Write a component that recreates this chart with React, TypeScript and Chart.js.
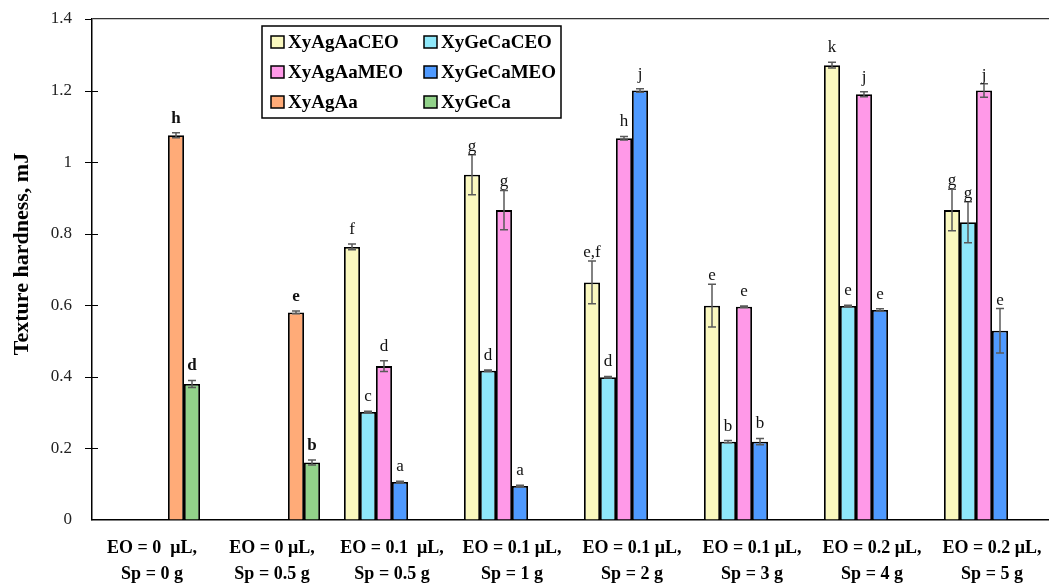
import React, { useEffect, useRef } from 'react';
import { Chart, registerables } from 'chart.js';

Chart.register(...registerables);

// ---------- data ----------
const categories: string[][] = [
  ['EO = 0  μL,', 'Sp = 0 g'],
  ['EO = 0 μL,', 'Sp = 0.5 g'],
  ['EO = 0.1  μL,', 'Sp = 0.5 g'],
  ['EO = 0.1 μL,', 'Sp = 1 g'],
  ['EO = 0.1 μL,', 'Sp = 2 g'],
  ['EO = 0.1 μL,', 'Sp = 3 g'],
  ['EO = 0.2 μL,', 'Sp = 4 g'],
  ['EO = 0.2 μL,', 'Sp = 5 g'],
];

const yTitle = 'Texture hardness, mJ';

const seriesNames = ['XyAgAaCEO', 'XyGeCaCEO', 'XyAgAaMEO', 'XyGeCaMEO', 'XyAgAa', 'XyGeCa'];
const seriesColors = ['#FAF8BF', '#8FE8FA', '#FF99E8', '#4F9AFF', '#FFAB78', '#92D28A'];

const valAgAaCEO = [null, null, 0.763, 0.965, 0.664, 0.599, 1.271, 0.866];
const valGeCaCEO = [null, null, 0.302, 0.417, 0.399, 0.219, 0.598, 0.832];
const valAgAaMEO = [null, null, 0.43, 0.866, 1.067, 0.596, 1.19, 1.2];
const valGeCaMEO = [null, null, 0.106, 0.095, 1.2, 0.219, 0.587, 0.529];
const valAgAa = [1.075, 0.58, null, null, null, null, null, null];
const valGeCa = [0.38, 0.161, null, null, null, null, null, null];

const errAgAaCEO = [0, 0, 0.008, 0.056, 0.06, 0.06, 0.008, 0.058];
const errGeCaCEO = [0, 0, 0.002, 0.002, 0.002, 0.003, 0.002, 0.057];
const errAgAaMEO = [0, 0, 0.015, 0.055, 0.005, 0.002, 0.007, 0.019];
const errGeCaMEO = [0, 0, 0.002, 0.002, 0.005, 0.009, 0.003, 0.062];
const errAgAa = [0.007, 0.004, 0, 0, 0, 0, 0, 0];
const errGeCa = [0.01, 0.007, 0, 0, 0, 0, 0, 0];

const lblAgAaCEO = ['', '', 'f', 'g', 'e,f', 'e', 'k', 'g'];
const lblGeCaCEO = ['', '', 'c', 'd', 'd', 'b', 'e', 'g'];
const lblAgAaMEO = ['', '', 'd', 'g', 'h', 'e', 'j', 'j'];
const lblGeCaMEO = ['', '', 'a', 'a', 'j', 'b', 'e', 'e'];
const lblAgAa = ['h', 'e', '', '', '', '', '', ''];
const lblGeCa = ['d', 'b', '', '', '', '', '', ''];

const boldLetterGroups = [true, true, false, false, false, false, false, false];

const yTicks = [0, 0.2, 0.4, 0.6, 0.8, 1, 1.2, 1.4];

const values = [valAgAaCEO, valGeCaCEO, valAgAaMEO, valGeCaMEO, valAgAa, valGeCa];
const errors = [errAgAaCEO, errGeCaCEO, errAgAaMEO, errGeCaMEO, errAgAa, errGeCa];
const letters = [lblAgAaCEO, lblGeCaCEO, lblAgAaMEO, lblGeCaMEO, lblAgAa, lblGeCa];

const SERIF = '"Liberation Serif", "Times New Roman", serif';

const errorLetterPlugin = {
  id: 'errorLetters',
  afterDatasetsDraw(chart: any) {
    const ctx = chart.ctx;
    const ys = chart.scales.y;
    ctx.save();
    chart.data.datasets.forEach((ds: any, di: number) => {
      const meta = chart.getDatasetMeta(di);
      meta.data.forEach((bar: any, i: number) => {
        const v = ds.data[i];
        if (v == null) return;
        const e = errors[di][i] || 0;
        const x = bar.x;
        const yTop = ys.getPixelForValue(v + e);
        const yBot = ys.getPixelForValue(v - e);
        ctx.strokeStyle = '#5a5a5a';
        ctx.lineWidth = 1.5;
        ctx.beginPath();
        ctx.moveTo(x, yTop);
        ctx.lineTo(x, yBot);
        ctx.moveTo(x - 4, yTop);
        ctx.lineTo(x + 4, yTop);
        ctx.moveTo(x - 4, yBot);
        ctx.lineTo(x + 4, yBot);
        ctx.stroke();
        const t = letters[di][i];
        if (t) {
          const errPx = yBot - yTop;
          const gap = errPx > 12 ? 4 : 10;
          ctx.fillStyle = '#111';
          ctx.font = `${boldLetterGroups[i] ? 'bold ' : ''}17px ${SERIF}`;
          ctx.textAlign = 'center';
          ctx.textBaseline = 'alphabetic';
          ctx.fillText(t, x, yTop - gap);
        }
      });
    });
    ctx.restore();
  },
};

const decorPlugin = {
  id: 'decor',
  afterDraw(chart: any) {
    const ctx = chart.ctx;
    const ys = chart.scales.y;
    const left = chart.chartArea.left;
    ctx.save();
    // cross tick marks on the y axis
    ctx.strokeStyle = '#000';
    ctx.lineWidth = 1.2;
    ctx.beginPath();
    yTicks.forEach((t) => {
      if (t === 0) return;
      const y = Math.round(ys.getPixelForValue(t)) + 0.5;
      ctx.moveTo(left - 7, y);
      ctx.lineTo(t === 1.4 ? left : left + 6, y);
    });
    ctx.stroke();

    // y-axis title
    ctx.save();
    ctx.translate(22, 254);
    ctx.rotate(-Math.PI / 2);
    ctx.font = `bold 22px ${SERIF}`;
    ctx.fillStyle = '#000';
    ctx.textAlign = 'center';
    ctx.textBaseline = 'middle';
    ctx.fillText(yTitle, 0, 0);
    ctx.restore();

    // legend
    const bx = 262, by = 26, bw = 299, bh = 92;
    ctx.fillStyle = '#fff';
    ctx.fillRect(bx, by, bw, bh);
    ctx.strokeStyle = '#000';
    ctx.lineWidth = 1.5;
    ctx.strokeRect(bx, by, bw, bh);
    ctx.font = `bold 19px ${SERIF}`;
    ctx.textAlign = 'left';
    ctx.textBaseline = 'middle';
    seriesNames.forEach((name, i) => {
      const col = i % 2;
      const row = Math.floor(i / 2);
      const sx = col === 0 ? 271 : 424;
      const cy = 42 + row * 30;
      ctx.fillStyle = seriesColors[i];
      ctx.fillRect(sx, cy - 6, 13, 12);
      ctx.strokeStyle = '#000';
      ctx.lineWidth = 1.5;
      ctx.strokeRect(sx, cy - 6, 13, 12);
      ctx.fillStyle = '#000';
      ctx.fillText(name, sx + 17, cy + 1);
    });
    ctx.restore();
  },
};

export default function App() {
  const canvasRef = useRef<HTMLCanvasElement | null>(null);

  useEffect(() => {
    const canvas = canvasRef.current;
    if (!canvas) return;
    const chart = new Chart(canvas, {
      type: 'bar',
      data: {
        labels: categories,
        datasets: seriesNames.map((name, i) => ({
          label: name,
          data: values[i],
          backgroundColor: seriesColors[i],
          borderColor: '#000',
          borderWidth: 1.8,
          categoryPercentage: 0.8,
          barPercentage: 1.0,
        })),
      },
      options: {
        responsive: false,
        animation: false,
        layout: { padding: { top: 19, right: 1, left: 0, bottom: 0 } },
        plugins: {
          legend: { display: false },
          tooltip: { enabled: false },
        },
        scales: {
          x: {
            type: 'category',
            grid: {
              display: true,
              drawOnChartArea: false,
              drawTicks: true,
              tickLength: 15,
              tickColor: 'rgba(0,0,0,0)',
            },
            border: { display: true, color: '#000', width: 1.5 },
            ticks: {
              color: '#000',
              font: { family: SERIF, size: 18, weight: 'bold', lineHeight: 1.45 },
              padding: 0,
              maxRotation: 0,
              autoSkip: false,
            },
            afterFit: (s: any) => {
              s.height = 65;
            },
          },
          y: {
            min: 0,
            max: 1.4,
            ticks: {
              stepSize: 0.2,
              color: '#222',
              font: { family: SERIF, size: 17 },
              padding: 0,
              callback: (v: any) => String(Number(Number(v).toFixed(1))),
            },
            grid: {
              drawOnChartArea: true,
              drawTicks: true,
              tickLength: 20,
              color: (c: any) =>
                c.tick && Math.abs(c.tick.value - 1.4) < 1e-6 ? '#333' : 'rgba(0,0,0,0)',
              tickColor: 'rgba(0,0,0,0)',
              lineWidth: 1.2,
            },
            border: { display: true, color: '#000', width: 1.5 },
            title: { display: false },
            afterFit: (s: any) => {
              s.width = 92;
            },
          },
        },
      },
      plugins: [errorLetterPlugin, decorPlugin],
    } as any);
    return () => chart.destroy();
  }, []);

  return (
    <div
      style={{
        position: 'absolute',
        left: 0,
        top: 0,
        width: 1049,
        height: 585,
        overflow: 'hidden',
        background: '#fff',
      }}
    >
      <canvas ref={canvasRef} width={1053} height={585} style={{ display: 'block' }} />
    </div>
  );
}
